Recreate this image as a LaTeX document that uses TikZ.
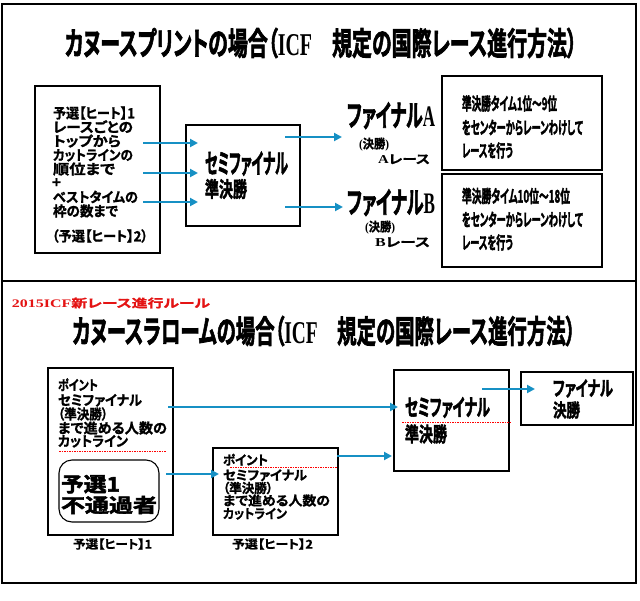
\documentclass[tikz,border=0pt]{standalone}
\usepackage{fontspec}
\usepackage{graphicx}
\usetikzlibrary{arrows.meta}
\newfontfamily\jpb[RawFeature=+palt,FakeBold=1.2]{Noto Sans CJK JP Bold}
\newfontfamily\jph[RawFeature=+palt,FakeBold=2.5]{Noto Sans CJK JP Bold}
\newfontfamily\ser{Liberation Serif}
\definecolor{arrowblue}{RGB}{22,144,196}
\definecolor{redtxt}{RGB}{228,20,20}
\newcommand{\fw}[3]{\resizebox*{#1pt}{#2pt}{\rule[-0.14em]{0pt}{1.04em}#3}}
\begin{document}
\begin{tikzpicture}[x=1pt,y=-1pt,
  box/.style={draw=black,line width=1.1pt,inner sep=0pt},
  txt/.style={inner sep=0pt,outer sep=0pt},
  arr/.style={draw=arrowblue,line width=2pt,-{Triangle[length=8pt,width=8pt]}},
  reddot/.style={draw=red,line width=0.7pt,dash pattern=on 1.5pt off 1pt}]
\useasboundingbox (0,0) rectangle (640,600);
\fill[white] (0,0) rectangle (640,600);
% frames
\draw[line width=1.5pt] (2,4) rectangle (636,583);
\draw[line width=1.5pt] (2,281) -- (636,281);

% ---------- top panel ----------
\node[txt] (title1) at (321,43) {\fw{512}{33}{\jph カヌースプリントの場合（{\ser\bfseries ICF}　規定の国際レース進行方法）}};

\node[box,minimum width=125pt,minimum height=167pt] (heat1) at (97.5,169.5) {};
\node[txt,anchor=west] (h1l1) at (53,113) {\fw{82}{14.5}{\jpb 予選【ヒート】1}};
\node[txt,anchor=west] (h1l2) at (53,127) {\fw{80}{14.5}{\jpb レースごとの}};
\node[txt,anchor=west] (h1l3) at (53,141) {\fw{68}{14.5}{\jpb トップから}};
\node[txt,anchor=west] (h1l4) at (53,155) {\fw{80}{14.5}{\jpb カットラインの}};
\node[txt,anchor=west] (h1l5) at (53,169) {\fw{62}{14.5}{\jpb 順位まで}};
\node[txt,anchor=west] (h1l6) at (52,183) {\jpb\fontsize{15}{15}\selectfont +};
\node[txt,anchor=west] (h1l7) at (53,197) {\fw{85}{14.5}{\jpb ベストタイムの}};
\node[txt,anchor=west] (h1l8) at (53,211) {\fw{65}{14.5}{\jpb 枠の数まで}};
\node[txt,anchor=west] (h1l9) at (52,236) {\fw{96}{14.5}{\jpb （予選【ヒート】2）}};

\node[box,minimum width=114pt,minimum height=101pt] (semi1) at (243,175.5) {};
\node[txt] (semi1a) at (246.5,163) {\fw{83}{28}{\jph セミファイナル}};
\node[txt] (semi1b) at (226,189) {\fw{42}{22}{\jph 準決勝}};

\node[txt] (finA) at (391,115) {\fw{88}{31}{\jph ファイナル{\ser\bfseries A}}};
\node[txt] (kesA) at (374,144) {\fw{30}{14}{{\ser\bfseries (}\jpb 決勝{\ser\bfseries )}}};
\node[txt] (raceA) at (404,159) {\fw{52}{12.5}{{\ser\bfseries A}\jpb レース}};
\node[txt] (finB) at (391,202) {\fw{88}{31}{\jph ファイナル{\ser\bfseries B}}};
\node[txt] (kesB) at (380,227) {\fw{30}{14}{{\ser\bfseries (}\jpb 決勝{\ser\bfseries )}}};
\node[txt] (raceB) at (402.5,242) {\fw{55}{12.5}{{\ser\bfseries B}\jpb レース}};

\node[box,minimum width=160pt,minimum height=94pt] (boxA) at (522,123) {};
\node[txt,anchor=west] (bAl1) at (462,103.5) {\fw{95}{18}{\jph 準決勝タイム1位～9位}};
\node[txt,anchor=west] (bAl2) at (462,127.5) {\fw{121}{18}{\jph をセンターからレーンわけして}};
\node[txt,anchor=west] (bAl3) at (462,150.5) {\fw{51}{18}{\jph レースを行う}};
\node[box,minimum width=160pt,minimum height=93pt] (boxB) at (522,220.5) {};
\node[txt,anchor=west] (bBl1) at (462,196) {\fw{108}{18}{\jph 準決勝タイム10位～18位}};
\node[txt,anchor=west] (bBl2) at (462,219.5) {\fw{121}{18}{\jph をセンターからレーンわけして}};
\node[txt,anchor=west] (bBl3) at (462,242.5) {\fw{51}{18}{\jph レースを行う}};

\coordinate (a1s) at (143,143); \coordinate (a1e) at (198,143);
\coordinate (a2s) at (143,173); \coordinate (a2e) at (198,173);
\coordinate (a3s) at (143,202); \coordinate (a3e) at (198,202);
\coordinate (a4s) at (285,137); \coordinate (a4e) at (342,137);
\coordinate (a5s) at (285,207); \coordinate (a5e) at (343,207);
\draw[arr] (a1s) -- (a1e);
\draw[arr] (a2s) -- (a2e);
\draw[arr] (a3s) -- (a3e);
\draw[arr] (a4s) -- (a4e);
\draw[arr] (a5s) -- (a5e);

% ---------- bottom panel ----------
\node[txt,text=redtxt] (rule) at (111,303) {\fw{198}{12}{{\ser\bfseries 2015ICF}\jpb 新レース進行ルール}};
\node[txt] (title2) at (324,331) {\fw{503}{33}{\jph カヌースラロームの場合（{\ser\bfseries ICF}　規定の国際レース進行方法）}};

\node[box,minimum width=125pt,minimum height=167pt] (H1) at (110.5,451.5) {};
\node[txt,anchor=west] (H1l1) at (58,385) {\fw{40}{14.5}{\jpb ポイント}};
\node[txt,anchor=west] (H1l2) at (58,400) {\fw{84}{14.5}{\jpb セミファイナル}};
\node[txt,anchor=west] (H1l3) at (58,414) {\fw{50}{14.5}{\jpb （準決勝）}};
\node[txt,anchor=west] (H1l4) at (58,428) {\fw{109}{14.5}{\jpb まで進める人数の}};
\node[txt,anchor=west] (H1l5) at (58,441) {\fw{70}{14.5}{\jpb カットライン}};
\draw[reddot] (59,451) -- (166,451);
\node[box,rounded corners=13pt,minimum width=100pt,minimum height=62pt] (fail) at (109,491) {};
\node[txt,anchor=west] (fail1) at (61,484) {\fw{59}{21}{\jph 予選1}};
\node[txt,anchor=west] (fail2) at (61,505) {\fw{96}{20}{\jph 不通過者}};
\node[txt] (lab1) at (112.5,544) {\fw{79}{12.5}{\jpb 予選【ヒート】1}};

\node[box,minimum width=125pt,minimum height=87pt] (H2) at (275.5,491.5) {};
\node[txt,anchor=west] (H2l1) at (223,460) {\fw{45}{13.5}{\jpb ポイント}};
\draw[reddot] (230,467) -- (337,467);
\node[txt,anchor=west] (H2l2) at (223,475) {\fw{84}{13.5}{\jpb セミファイナル}};
\node[txt,anchor=west] (H2l3) at (223,488) {\fw{50}{13.5}{\jpb （準決勝）}};
\node[txt,anchor=west] (H2l4) at (223,500.5) {\fw{107}{13.5}{\jpb まで進める人数の}};
\node[txt,anchor=west] (H2l5) at (223,513.5) {\fw{64}{13.5}{\jpb カットライン}};
\node[txt] (lab2) at (272.5,544) {\fw{81}{12.5}{\jpb 予選【ヒート】2}};

\node[box,minimum width=115pt,minimum height=101pt] (semi2) at (451.5,420.5) {};
\node[txt] (semi2a) at (447.5,407) {\fw{85}{24}{\jph セミファイナル}};
\draw[reddot] (402,422) -- (510,422);
\node[txt] (semi2b) at (426,434) {\fw{42}{21}{\jph 準決勝}};

\node[box,minimum width=112pt,minimum height=53pt] (fin2) at (577,398.5) {};
\node[txt] (fin2a) at (583,388) {\fw{60}{21}{\jph ファイナル}};
\node[txt] (fin2b) at (566.5,410) {\fw{27}{19}{\jph 決勝}};

\coordinate (b1s) at (168,407); \coordinate (b1e) at (398,407);
\coordinate (b2s) at (166,474); \coordinate (b2e) at (219,474);
\coordinate (b3s) at (337,456); \coordinate (b3e) at (392,456);
\coordinate (b4s) at (482,389); \coordinate (b4e) at (535,389);
\draw[arr] (b1s) -- (b1e);
\draw[arr] (b2s) -- (b2e);
\draw[arr] (b3s) -- (b3e);
\draw[arr] (b4s) -- (b4e);
\end{tikzpicture}
\end{document}
